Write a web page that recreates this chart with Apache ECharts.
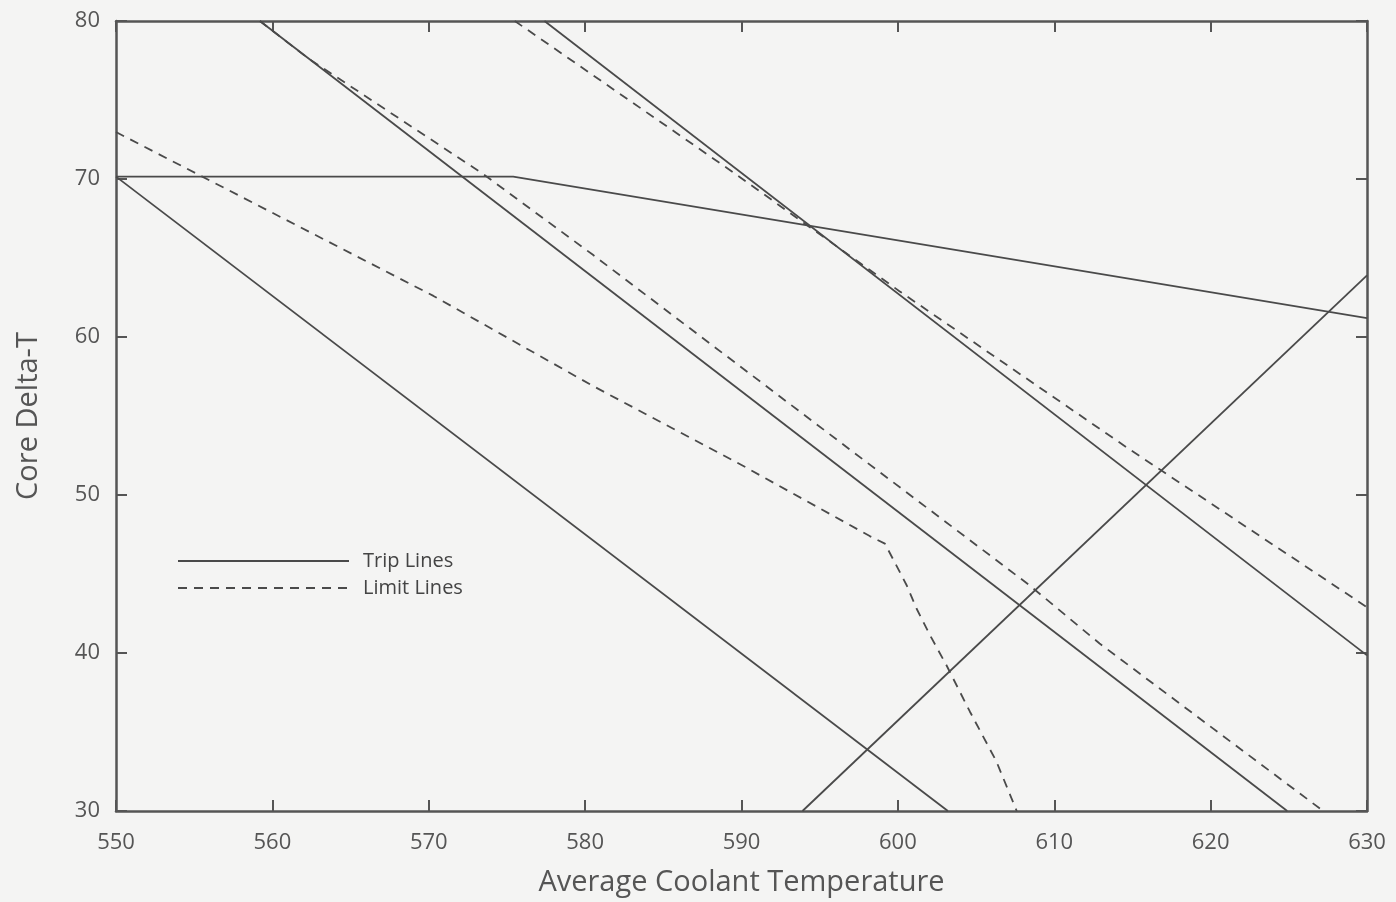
<!DOCTYPE html>
<html>
<head>
<meta charset="utf-8">
<script src="https://cdn.jsdelivr.net/npm/echarts@6/dist/echarts.min.js"></script>
<style>
  html, body { margin: 0; padding: 0; background: #f4f4f3; overflow: hidden; }
  #chart { width: 1396px; height: 902px; }
</style>
</head>
<body>
<div id="chart"></div>
<script>
// Axis ranges and tick labels
const xTicks = [550, 560, 570, 580, 590, 600, 610, 620, 630];
const yTicks = [30, 40, 50, 60, 70, 80];

// Trip lines (solid): [temperature, delta-T]
const tripFlat   = [[550, 70.15], [575.4, 70.15], [630, 61.2]];
const tripUpper  = [[577.4, 80], [630, 39.85]];
const tripMiddle = [[559.2, 80], [624.9, 30]];
const tripLower  = [[550, 70.15], [603.2, 30]];
const tripRising = [[593.9, 30], [630, 63.9]];

// Limit lines (dashed)
const limitUpper  = [[575.5, 80], [589.5, 70.4], [594.3, 67.0], [600.1, 62.9], [614.8, 52.9], [630, 42.9]];
const limitMiddle = [[559.2, 80], [562.2, 77.7], [573.5, 70.3], [580.5, 65.2], [596.9, 52.9], [608.4, 44.3], [612.9, 40.6], [627.2, 30]];
const limitLower  = [[550, 72.97], [570.3, 62.6], [580.5, 56.9], [590, 51.9], [598.2, 47.4], [599.17, 46.92],
                     [599.9, 45.55], [600.56, 44.29], [601.2, 42.8], [602.05, 41.13], [603.1, 39.24],
                     [604.6, 36.3], [606.3, 33.14], [607.6, 30]];

const INK = '#4a4a4a';
const AXIS = '#555';
const FONT = '"Open Sans", Lato, sans-serif';

function lineSeries(name, data, dashed) {
  return {
    name: name,
    type: 'line',
    data: data,
    symbol: 'none',
    silent: true,
    animation: false,
    lineStyle: { color: INK, width: 1.8, type: dashed ? [9, 7] : 'solid' },
    itemStyle: { color: INK }
  };
}

function frameTick() {
  return { show: true, inside: true, length: 11, lineStyle: { color: AXIS, width: 2 } };
}
function frameLine() {
  return { show: true, lineStyle: { color: AXIS, width: 2.5 } };
}

const chart = echarts.init(document.getElementById('chart'), null, { renderer: 'canvas', width: 1396, height: 902 });
chart.setOption({
  backgroundColor: '#f4f4f3',
  animation: false,
  grid: { left: 116, right: 29, top: 21, bottom: 89, containLabel: false },
  legend: {
    data: ['Trip Lines', 'Limit Lines'],
    orient: 'vertical',
    left: 172,
    top: 546,
    itemWidth: 171,
    itemHeight: 14,
    itemGap: 7,
    itemStyle: { opacity: 0 },
    textStyle: { fontFamily: FONT, fontSize: 20, color: '#444', padding: [0, 0, 0, 9] },
    selectedMode: false
  },
  xAxis: [
    {
      type: 'value', min: 550, max: 630, interval: 10, position: 'bottom',
      name: 'Average Coolant Temperature', nameLocation: 'middle', nameGap: 57,
      nameTextStyle: { fontFamily: FONT, fontSize: 29, color: '#555' },
      axisLine: frameLine(),
      axisTick: frameTick(),
      axisLabel: {
        fontFamily: FONT, fontSize: 22, color: '#555', margin: 21,
        formatter: v => xTicks.includes(v) ? String(v) : ''
      },
      splitLine: { show: false }
    },
    {
      type: 'value', min: 550, max: 630, interval: 10, position: 'top',
      axisLine: frameLine(),
      axisTick: frameTick(),
      axisLabel: { show: false },
      splitLine: { show: false }
    }
  ],
  yAxis: [
    {
      type: 'value', min: 30, max: 80, interval: 10, position: 'left',
      name: 'Core Delta-T', nameLocation: 'middle', nameGap: 73, nameRotate: 90,
      nameTextStyle: { fontFamily: FONT, fontSize: 29, color: '#555' },
      axisLine: frameLine(),
      axisTick: frameTick(),
      axisLabel: {
        fontFamily: FONT, fontSize: 22, color: '#555', margin: 16,
        formatter: v => yTicks.includes(v) ? String(v) : ''
      },
      splitLine: { show: false }
    },
    {
      type: 'value', min: 30, max: 80, interval: 10, position: 'right',
      axisLine: frameLine(),
      axisTick: frameTick(),
      axisLabel: { show: false },
      splitLine: { show: false }
    }
  ],
  series: [
    lineSeries('Trip Lines', tripFlat, false),
    lineSeries('Trip Lines', tripUpper, false),
    lineSeries('Trip Lines', tripMiddle, false),
    lineSeries('Trip Lines', tripLower, false),
    lineSeries('Trip Lines', tripRising, false),
    lineSeries('Limit Lines', limitUpper, true),
    lineSeries('Limit Lines', limitMiddle, true),
    lineSeries('Limit Lines', limitLower, true)
  ]
});
</script>
</body>
</html>
